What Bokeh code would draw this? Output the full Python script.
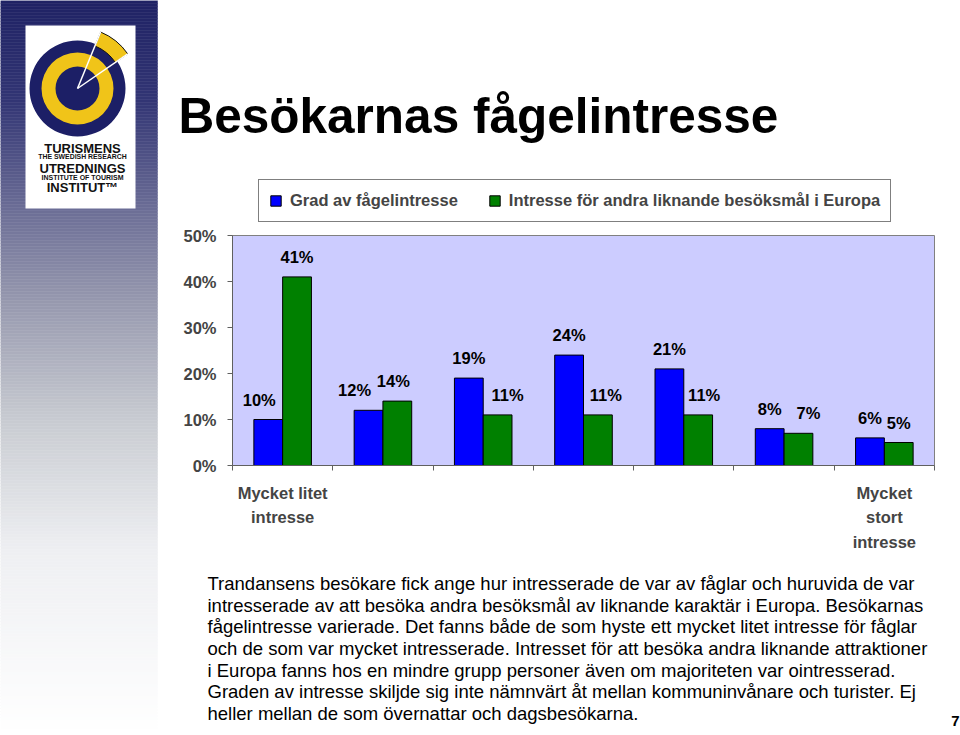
import numpy as np
from bokeh.plotting import figure
from bokeh.models import (Range1d, FixedTicker, PrintfTickFormatter, LinearAxis,
                          Legend, LegendItem, ColumnDataSource)
from bokeh.transform import dodge
from bokeh.core.properties import value
from bokeh.embed import file_html
from bokeh.resources import INLINE

# ---------------- data ----------------
categories = ["1", "2", "3", "4", "5", "6", "7"]          # 1 = mycket litet ... 7 = mycket stort intresse
grad_values = [10, 12, 19, 24, 21, 8, 6]                  # Grad av fågelintresse (%)
europa_values = [41, 14, 11, 11, 11, 7, 5]                # Intresse för andra liknande besöksmål i Europa (%)
series_names = ["Grad av fågelintresse", "Intresse för andra liknande besöksmål i Europa"]
y_ticks = [0, 10, 20, 30, 40, 50]
end_labels = ["Mycket litet\nintresse", "Mycket\nstort\nintresse"]
title_text = "Besökarnas fågelintresse"
paragraph_lines = [
    "Trandansens besökare fick ange hur intresserade de var av fåglar och huruvida de var",
    "intresserade av att besöka andra besöksmål av liknande karaktär i Europa. Besökarnas",
    "fågelintresse varierade. Det fanns både de som hyste ett mycket litet intresse för fåglar",
    "och de som var mycket intresserade. Intresset för att besöka andra liknande attraktioner",
    "i Europa fanns hos en mindre grupp personer även om majoriteten var ointresserad.",
    "Graden av intresse skiljde sig inte nämnvärt åt mellan kommuninvånare och turister. Ej",
    "heller mellan de som övernattar och dagsbesökarna.",
]
page_number = "7"
logo_lines = ["TURISMENS", "THE SWEDISH RESEARCH", "UTREDNINGS", "INSTITUTE OF TOURISM", "INSTITUT\u2122"]

# ---------------- style ----------------
FONT = "Liberation Sans"
BLUE = "#0000ff"
GREEN = "#008000"
LAVENDER = "#ccccff"
NAVY = "#1c1f66"
YELLOW = "#f0c419"
W, H = 960, 735
PLOT_L, PLOT_R, PLOT_T, PLOT_B = 232, 934, 235, 465      # plot area in page pixels
# small horizontal nudges (px) of the value labels, as placed in the original slide
grad_label_nudge = [-9, -14, 0, 0, 0, 0, 0]
europa_label_nudge = [0, -4, 10, 8, 6, 10, 0]


def Y(v):
    return H - v


p = figure(width=W, height=H, x_range=Range1d(0, W), y_range=Range1d(0, H), min_border=0,
           x_axis_type=None, y_axis_type=None, output_backend="svg", toolbar_location=None,
           outline_line_color=None)
p.background_fill_color = "white"
p.border_fill_color = "white"

ncat = len(categories)
ymax = max(y_ticks)
ux = (PLOT_R - PLOT_L) / ncat
uy = (PLOT_B - PLOT_T) / ymax
p.extra_x_ranges = {"cat": Range1d(-PLOT_L / ux, (W - PLOT_L) / ux)}
p.extra_y_ranges = {"pct": Range1d(-(H - PLOT_B) / uy, PLOT_B / uy)}

# ---------------- left stripe with logo ----------------
stops_y = [0, 100, 210, 300, 420, 550, 735]
stops_c = np.array([[31, 34, 100], [50, 53, 116], [108, 110, 150], [150, 152, 174],
                    [200, 203, 209], [238, 239, 242], [255, 255, 255]], dtype=float)
ys = np.arange(0, H, 3)
cols = []
for yy in ys:
    c = [np.interp(yy + 1.5, stops_y, stops_c[:, k]) for k in range(3)]
    cols.append("#%02x%02x%02x" % tuple(int(round(v)) for v in c))
p.quad(left=0, right=157, top=Y(ys), bottom=Y(ys + 3), fill_color=cols, line_color=cols, line_width=0.5)

p.quad(left=25, right=135, top=Y(25), bottom=Y(208), fill_color="white", line_color=None)
cx, cy = 77, Y(88)
a = np.radians([34.5, 67.7])
p.circle(x=cx, y=cy, radius=48, fill_color=NAVY, line_color=None)
p.annulus(x=cx, y=cy, inner_radius=22, outer_radius=36, fill_color=YELLOW, line_color=None)
p.annular_wedge(x=cx, y=cy, inner_radius=46, outer_radius=61, start_angle=float(a[0]),
                end_angle=float(a[1]), fill_color=YELLOW, line_color="#111111", line_width=1)
p.segment(x0=[cx, cx], y0=[cy, cy], x1=(cx + 61 * np.cos(a)).tolist(), y1=(cy + 61 * np.sin(a)).tolist(),
          line_color="white", line_width=1.5)
logo_y = [147.5, 156.2, 167.5, 177, 186.5]
logo_sz = ["13px", "6.9px", "13px", "7px", "13px"]
for t, yy, sz in zip(logo_lines, logo_y, logo_sz):
    p.text(x=[82], y=[Y(yy)], text=[t], text_align="center", text_baseline="middle",
           text_font=value(FONT), text_font_style="bold", text_font_size=sz, text_color="#111111")

# ---------------- chart ----------------
p.quad(left=0, right=ncat, bottom=0, top=ymax, x_range_name="cat", y_range_name="pct",
       fill_color=LAVENDER, line_color="#808080", line_width=1)

xs = np.arange(ncat) + 0.5
src = ColumnDataSource(dict(
    x=xs, grad=grad_values, europa=europa_values,
    grad_lbl=[f"{v}%" for v in grad_values], europa_lbl=[f"{v}%" for v in europa_values],
    grad_dx=grad_label_nudge, europa_dx=europa_label_nudge))

BW = 0.287
r1 = p.vbar(x=dodge("x", -BW / 2), top="grad", width=BW, source=src, x_range_name="cat",
            y_range_name="pct", fill_color=BLUE, line_color="black", line_width=1)
r2 = p.vbar(x=dodge("x", BW / 2), top="europa", width=BW, source=src, x_range_name="cat",
            y_range_name="pct", fill_color=GREEN, line_color="black", line_width=1)
for fld, lbl, dx, off in [("grad", "grad_lbl", "grad_dx", -BW / 2), ("europa", "europa_lbl", "europa_dx", BW / 2)]:
    p.text(x=dodge("x", off), y=fld, text=lbl, source=src, x_range_name="cat", y_range_name="pct",
           text_align="center", text_baseline="middle", x_offset=dx, y_offset=-20,
           text_font=value(FONT), text_font_style="bold", text_font_size="16.5px", text_color="black")

yaxis = LinearAxis(x_range_name="cat", y_range_name="pct", fixed_location=0, bounds=(0, ymax),
                   ticker=FixedTicker(ticks=y_ticks), formatter=PrintfTickFormatter(format="%d%%"),
                   major_tick_in=0, major_tick_out=5, minor_tick_line_color=None,
                   axis_line_color="#606060", major_tick_line_color="#606060",
                   major_label_text_font=FONT, major_label_text_font_style="bold",
                   major_label_text_font_size="16.5px", major_label_standoff=11)
p.add_layout(yaxis, "left")

xaxis = LinearAxis(x_range_name="cat", y_range_name="pct", fixed_location=0, bounds=(0, ncat),
                   ticker=FixedTicker(ticks=[float(xs[0]), float(xs[-1])], minor_ticks=list(range(ncat + 1))),
                   major_tick_in=0, major_tick_out=0, major_tick_line_color=None,
                   minor_tick_in=0, minor_tick_out=5, minor_tick_line_color="#606060",
                   axis_line_color="#606060",
                   major_label_overrides={float(xs[0]): end_labels[0], float(xs[-1]): end_labels[1]},
                   major_label_text_font=FONT, major_label_text_font_style="bold",
                   major_label_text_font_size="16.5px", major_label_text_line_height=1.37,
                   major_label_standoff=13)
p.add_layout(xaxis, "below")

legend = Legend(items=[LegendItem(label=series_names[0], renderers=[r1]),
                       LegendItem(label=series_names[1], renderers=[r2])],
                orientation="horizontal", location=(258, H - 222),
                border_line_color="black", border_line_width=1, background_fill_color="white",
                background_fill_alpha=1, padding=10, spacing=30, glyph_width=13, glyph_height=13,
                label_standoff=8, label_text_font=FONT, label_text_font_style="bold",
                label_text_font_size="16.5px", label_height=21)
p.add_layout(legend, "center")

p.text(x=[178], y=[Y(115)], text=[title_text], text_baseline="middle", text_font=value(FONT),
       text_font_style="bold", text_font_size="49.5px", text_color="black")

line_y = [583, 604.7, 626.3, 648, 669.7, 691.3, 713]
p.text(x=[207] * len(paragraph_lines), y=[Y(v) for v in line_y], text=paragraph_lines,
       text_baseline="middle", text_font=value(FONT), text_font_size="18.5px", text_color="black")
p.text(x=[955], y=[Y(720)], text=[page_number], text_align="center", text_baseline="middle",
       text_font=value(FONT), text_font_style="bold", text_font_size="15px", text_color="black")

open("out.html", "w").write(file_html(p, INLINE))
